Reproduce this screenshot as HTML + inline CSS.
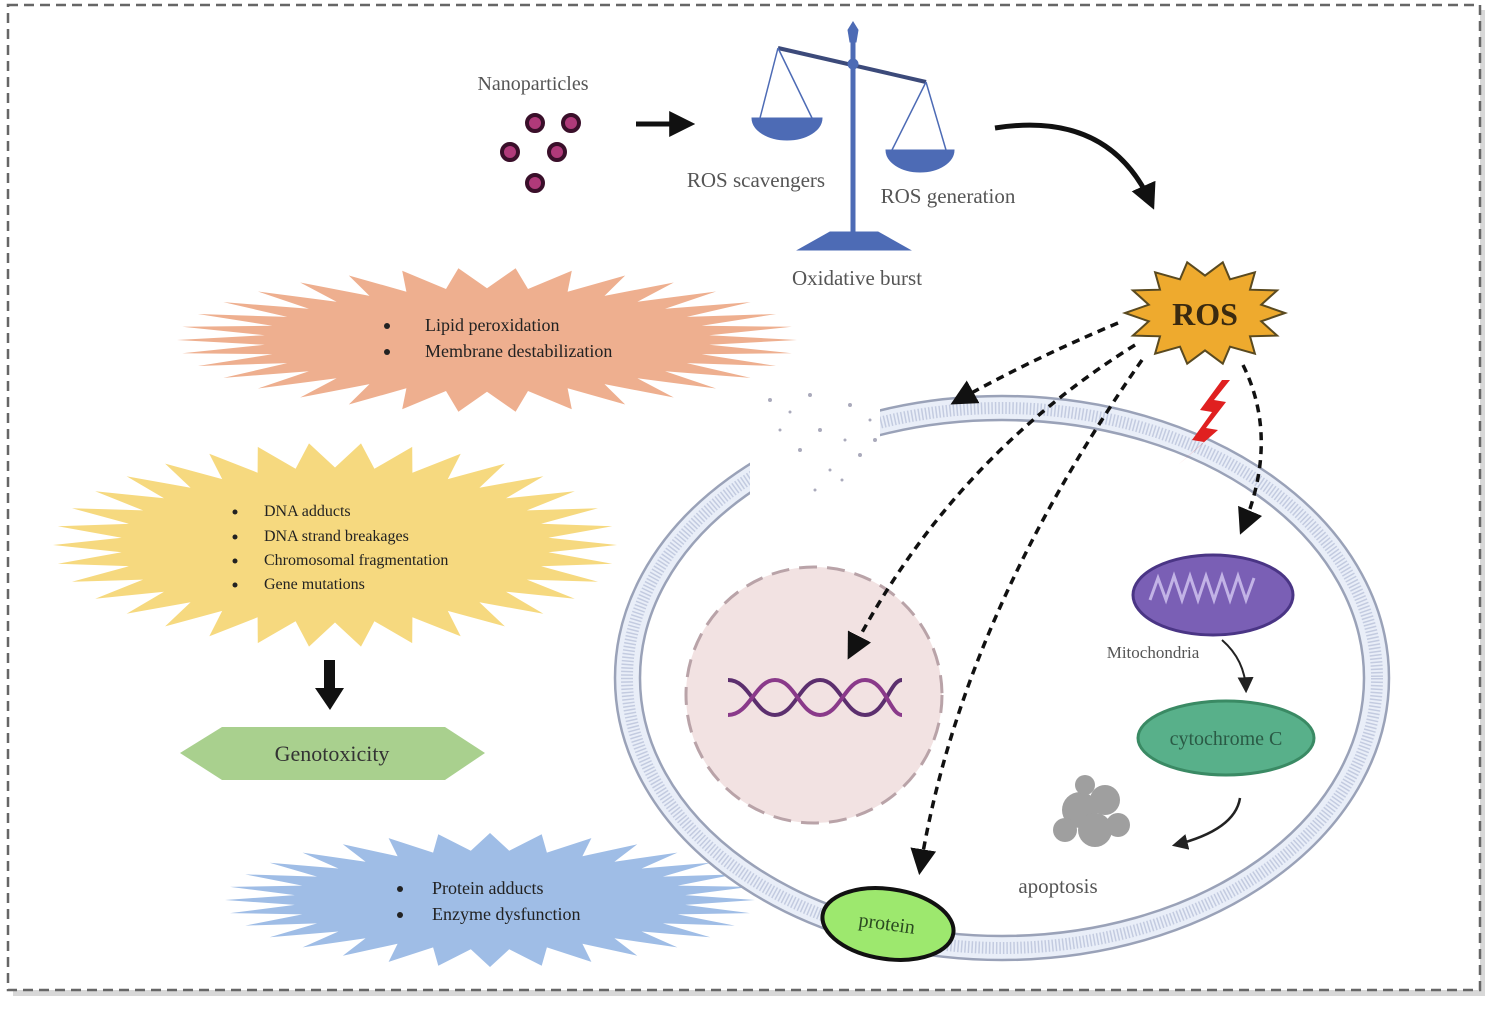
<!DOCTYPE html>
<html><head><meta charset="utf-8">
<style>
html,body{margin:0;padding:0;background:#fff}
svg{display:block}
text{font-family:"Liberation Serif",serif}
</style></head>
<body>
<svg id="s" width="1499" height="1012" viewBox="0 0 1499 1012" xmlns="http://www.w3.org/2000/svg">
<defs>
<marker id="ah" viewBox="0 0 10 10" refX="8" refY="5" markerWidth="9" markerHeight="9" markerUnits="userSpaceOnUse" orient="auto"><path d="M0,0 L10,5 L0,10 z" fill="#111"/></marker>
<marker id="ahb" viewBox="0 0 10 10" refX="8" refY="5" markerWidth="26" markerHeight="26" markerUnits="userSpaceOnUse" orient="auto"><path d="M0,0 L10,5 L0,10 z" fill="#111"/></marker>
<marker id="ahs" viewBox="0 0 10 10" refX="8" refY="5" markerWidth="16" markerHeight="16" markerUnits="userSpaceOnUse" orient="auto"><path d="M0,0 L10,5 L0,10 z" fill="#222"/></marker>
</defs>
<rect x="0" y="0" width="1499" height="1012" fill="#fff"/>
<rect x="13" y="10" width="1472" height="986" fill="#d8d8d8"/>
<rect x="8" y="5" width="1472" height="985" fill="#fff" stroke="#666" stroke-width="2.5" stroke-dasharray="10,6"/>

<!-- bursts -->
<polygon id="b1" fill="#eeaf8f"/>
<polygon id="b2" fill="#f6d97f"/>
<polygon id="b3" fill="#9fbde6"/>
<polygon id="b4" fill="#eeaa2e" stroke="#5a4a20" stroke-width="2"/>

<!-- top -->
<text x="533" y="90" font-size="20" fill="#555" text-anchor="middle">Nanoparticles</text>
<g fill="#b03a7a" stroke="#3a0f2a" stroke-width="4">
<circle cx="535" cy="123" r="8"/><circle cx="571" cy="123" r="8"/>
<circle cx="510" cy="152" r="8"/><circle cx="557" cy="152" r="8"/>
<circle cx="535" cy="183" r="8"/></g>
<line x1="636" y1="124" x2="690" y2="124" stroke="#111" stroke-width="5" marker-end="url(#ahb)"/>
<!-- scale -->
<g fill="#4d6bb5" stroke="#4d6bb5">
<line x1="853" y1="30" x2="853" y2="240" stroke-width="5"/>
<path d="M848,30 L853,22 L858,30 L856,42 L850,42 z"/>
<line x1="778" y1="48" x2="926" y2="82" stroke="#3c4a7a" stroke-width="4"/>
<circle cx="853" cy="64" r="5"/>
<line x1="778" y1="48" x2="760" y2="118" stroke-width="1.5" fill="none"/>
<line x1="778" y1="48" x2="812" y2="118" stroke-width="1.5"/>
<path d="M752,118 L822,118 A35,22 0 0 1 752,118 z"/>
<line x1="926" y1="82" x2="892" y2="150" stroke-width="1.5"/>
<line x1="926" y1="82" x2="946" y2="150" stroke-width="1.5"/>
<path d="M886,150 L954,150 A34,22 0 0 1 886,150 z"/>
<path d="M830,232 L878,232 L910,250 L798,250 z"/>
</g>
<text x="756" y="187" font-size="21" fill="#555" text-anchor="middle">ROS scavengers</text>
<text x="948" y="203" font-size="21" fill="#555" text-anchor="middle">ROS generation</text>
<text x="857" y="285" font-size="21" fill="#555" text-anchor="middle">Oxidative burst</text>
<path d="M995,128 Q1110,110 1152,205" fill="none" stroke="#111" stroke-width="5" marker-end="url(#ahb)"/>

<!-- left texts -->
<g font-size="18" fill="#222">
<circle cx="387" cy="326" r="3" fill="#222"/><text x="425" y="331">Lipid peroxidation</text>
<circle cx="387" cy="352" r="3" fill="#222"/><text x="425" y="357">Membrane destabilization</text>
</g>
<g font-size="16" fill="#222">
<circle cx="235" cy="512" r="2.5" fill="#222"/><text x="264" y="516">DNA adducts</text>
<circle cx="235" cy="537" r="2.5" fill="#222"/><text x="264" y="541">DNA strand breakages</text>
<circle cx="235" cy="561" r="2.5" fill="#222"/><text x="264" y="565">Chromosomal fragmentation</text>
<circle cx="235" cy="585" r="2.5" fill="#222"/><text x="264" y="589">Gene mutations</text>
</g>
<rect x="324" y="660" width="11" height="30" fill="#111"/>
<path d="M315,688 L344,688 L330,710 z" fill="#111"/>
<path d="M180,753 L222,727 L445,727 L485,753 L445,780 L222,780 z" fill="#a9d08e"/>
<text x="332" y="761" font-size="22" fill="#333" text-anchor="middle">Genotoxicity</text>
<g font-size="18" fill="#222">
<circle cx="400" cy="889" r="3" fill="#222"/><text x="432" y="894">Protein adducts</text>
<circle cx="400" cy="915" r="3" fill="#222"/><text x="432" y="920">Enzyme dysfunction</text>
</g>

<!-- cell -->
<ellipse cx="1002" cy="678" rx="387" ry="282" fill="#e9eef8" stroke="#9aa2b8" stroke-width="2.5"/>
<ellipse cx="1002" cy="678" rx="375" ry="270" fill="none" stroke="#c3cbe0" stroke-width="12" stroke-dasharray="1.5,2"/>
<ellipse cx="1002" cy="678" rx="362" ry="258" fill="#fff" stroke="#9aa2b8" stroke-width="2.5"/>
<!-- membrane break -->
<rect x="750" y="385" width="130" height="120" fill="#fff"/>
<g fill="#aab">
<circle cx="770" cy="400" r="2"/><circle cx="790" cy="412" r="1.5"/><circle cx="810" cy="395" r="2"/><circle cx="850" cy="405" r="2"/><circle cx="870" cy="420" r="1.5"/><circle cx="820" cy="430" r="2"/><circle cx="845" cy="440" r="1.5"/><circle cx="800" cy="450" r="2"/><circle cx="830" cy="470" r="1.5"/><circle cx="860" cy="455" r="2"/><circle cx="815" cy="490" r="1.5"/><circle cx="780" cy="430" r="1.5"/><circle cx="875" cy="440" r="2"/><circle cx="842" cy="480" r="1.5"/>
</g>
<!-- nucleus -->
<circle cx="814" cy="695" r="128" fill="#f2e2e2" stroke="#b9a3a8" stroke-width="3" stroke-dasharray="18,10"/>
<g fill="none" stroke="#5c2f6e" stroke-width="4">
<path d="M728,680 C750,680 755,715 775,715 C795,715 800,680 820,680 C840,680 845,715 865,715 C885,715 890,680 902,680"/>
<path d="M728,715 C750,715 755,680 775,680 C795,680 800,715 820,715 C840,715 845,680 865,680 C885,680 890,715 902,715" stroke="#8a3a8a"/>
</g>
<!-- mitochondria -->
<ellipse cx="1213" cy="595" rx="80" ry="40" fill="#7a5fb5" stroke="#4a3585" stroke-width="3"/>
<path d="M1150,600 l8,-22 l8,22 l8,-24 l8,24 l8,-24 l8,24 l8,-24 l8,24 l8,-24 l8,24 l8,-24 l8,24 l8,-22" fill="none" stroke="#c2b3e6" stroke-width="3"/>
<text x="1153" y="658" font-size="17" fill="#555" text-anchor="middle">Mitochondria</text>
<path d="M1222,640 Q1245,660 1246,690" fill="none" stroke="#222" stroke-width="2" marker-end="url(#ahs)"/>
<ellipse cx="1226" cy="738" rx="88" ry="37" fill="#58b08a" stroke="#3a8a64" stroke-width="3"/>
<text x="1226" y="745" font-size="20" fill="#2a5a45" text-anchor="middle">cytochrome C</text>
<path d="M1240,798 Q1235,830 1175,845" fill="none" stroke="#222" stroke-width="2.5" marker-end="url(#ahs)"/>
<g fill="#888" opacity="0.8">
<circle cx="1080" cy="810" r="18"/><circle cx="1105" cy="800" r="15"/><circle cx="1095" cy="830" r="17"/><circle cx="1065" cy="830" r="12"/><circle cx="1118" cy="825" r="12"/><circle cx="1085" cy="785" r="10"/></g>
<text x="1058" y="893" font-size="21" fill="#555" text-anchor="middle">apoptosis</text>
<ellipse cx="888" cy="924" rx="66" ry="35" fill="#9de86e" stroke="#111" stroke-width="4" transform="rotate(8 888 924)"/>
<text x="886" y="930" font-size="20" fill="#2a4a20" text-anchor="middle" transform="rotate(8 886 930)">protein</text>

<!-- ROS -->
<text x="1205" y="325" font-size="32" font-weight="bold" fill="#3a2a10" text-anchor="middle">ROS</text>
<path d="M1222,380 L1200,410 L1212,412 L1192,440 L1204,442 L1178,465 L1218,430 L1206,428 L1226,402 L1214,400 L1230,380 z" fill="#e02020"/>
<g fill="none" stroke="#111" stroke-width="3.5" stroke-dasharray="8,6">
<path d="M1118,323 Q1030,360 955,402" marker-end="url(#ahb)"/>
<path d="M1135,345 Q950,460 850,655" marker-end="url(#ahb)"/>
<path d="M1142,360 Q960,620 920,870" marker-end="url(#ahb)"/>
<path d="M1243,365 Q1280,440 1242,530" marker-end="url(#ahb)"/>
</g>
</svg>
<script>
function burst(id,cx,cy,rx,ry,n,inner,rot){
 var p=[];for(var i=0;i<2*n;i++){var a=Math.PI*i/n+(rot||0);var f=i%2?inner:1;
 p.push((cx+rx*f*Math.cos(a)).toFixed(1)+","+(cy+ry*f*Math.sin(a)).toFixed(1));}
 document.getElementById(id).setAttribute("points",p.join(" "));}
burst("b1",487,340,310,72,34,0.72);
burst("b2",335,545,282,102,34,0.76);
burst("b3",490,900,265,67,32,0.74);
burst("b4",1205,313,80,52,14,0.72);
</script>
</body></html>
